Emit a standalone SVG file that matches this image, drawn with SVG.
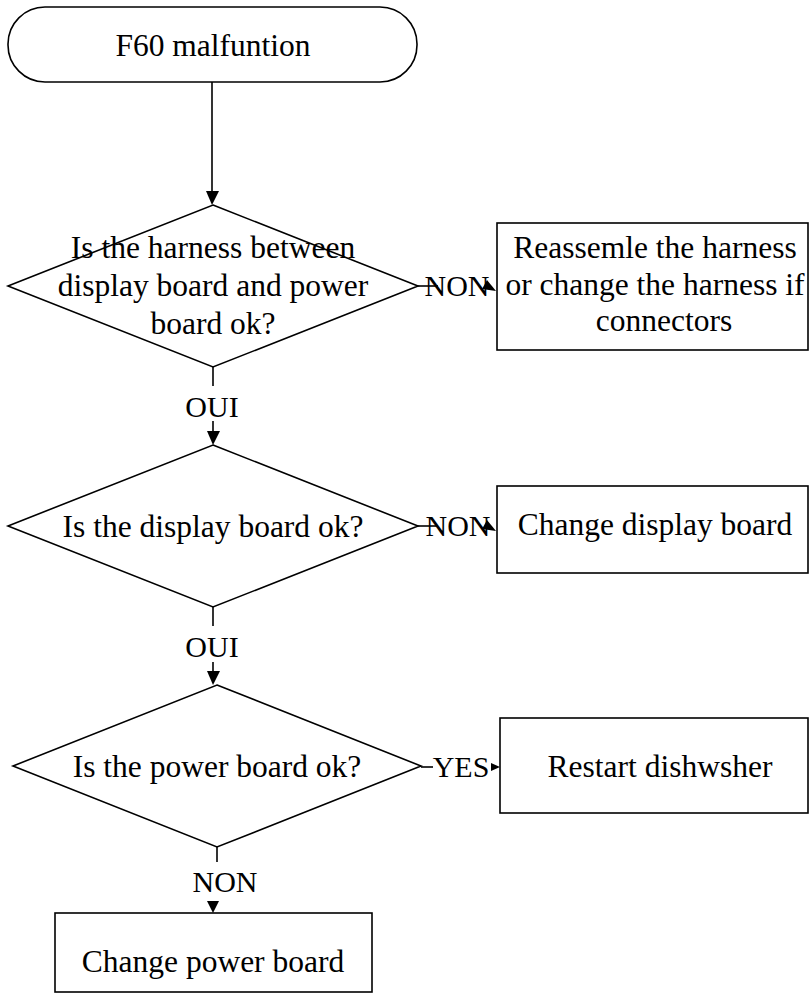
<svg xmlns="http://www.w3.org/2000/svg" width="809" height="1004" viewBox="0 0 809 1004">
<style>
.s{fill:#fff;stroke:#000;stroke-width:1.6}
.t{font-family:"Liberation Serif","Times New Roman",serif;font-size:31.5px;fill:#000;text-anchor:middle}
.l{font-family:"Liberation Serif","Times New Roman",serif;font-size:30px;fill:#000;text-anchor:middle}
.c{stroke:#000;stroke-width:1.6;fill:none}
.a{fill:#000;stroke:none}
</style>
<rect width="809" height="1004" fill="#fff"/>
<g id="start">
<rect class="s" x="8" y="7" width="409" height="75" rx="37" ry="37"/>
<text class="t" x="213" y="56">F60 malfuntion</text>
</g>
<g id="q1">
<polygon class="s" points="213,205 418,286 213,367 8,286"/>
<text class="t" x="213" y="258">Is the harness between</text>
<text class="t" x="213" y="296">display board and power</text>
<text class="t" x="213" y="334">board ok?</text>
</g>
<g id="r1">
<rect class="s" x="497" y="223" width="311" height="127"/>
<text class="t" x="655" y="258">Reassemle the harness</text>
<text class="t" x="655" y="295">or change the harness if</text>
<text class="t" x="664" y="331">connectors</text>
</g>
<g id="q2">
<polygon class="s" points="213,445 418,526 213,607 8,526"/>
<text class="t" x="213" y="537">Is the display board ok?</text>
</g>
<g id="r2">
<rect class="s" x="497" y="486" width="311" height="87"/>
<text class="t" x="655" y="535">Change display board</text>
</g>
<g id="q3">
<polygon class="s" points="217,685 421,766 217,847 13,766"/>
<text class="t" x="217" y="777">Is the power board ok?</text>
</g>
<g id="r3">
<rect class="s" x="500" y="718" width="308" height="95"/>
<text class="t" x="660" y="777">Restart dishwsher</text>
</g>
<g id="r4">
<rect class="s" x="55" y="913" width="317" height="79"/>
<text class="t" x="213" y="972">Change power board</text>
</g>
<g id="connectors">
<line class="c" x1="212" y1="82" x2="212" y2="193"/>
<polygon class="a" points="206,191 219,191 212,205"/>
<line class="c" x1="213" y1="367" x2="213" y2="386"/>
<text class="l" x="212" y="417">OUI</text>
<line class="c" x1="213" y1="421" x2="213" y2="433"/>
<polygon class="a" points="207,431 220,431 213,445"/>
<line class="c" x1="418" y1="286" x2="438" y2="286"/>
<text class="l" x="457" y="296">NON</text>
<polygon class="a" points="482,289 487,280 496,291"/>
<line class="c" x1="213" y1="607" x2="213" y2="626"/>
<text class="l" x="212" y="657">OUI</text>
<line class="c" x1="213" y1="662" x2="213" y2="673"/>
<polygon class="a" points="207,671 220,671 213,685"/>
<line class="c" x1="418" y1="526" x2="438" y2="526"/>
<text class="l" x="458" y="536">NON</text>
<polygon class="a" points="482,529 487,520 496,531"/>
<line class="c" x1="421" y1="767" x2="433" y2="767"/>
<text class="l" x="461" y="777">YES</text>
<polygon class="a" points="491,763 491,771 500,767"/>
<line class="c" x1="217" y1="847" x2="217" y2="862"/>
<text class="l" x="225" y="892">NON</text>
<polygon class="a" points="207,901 219,901 213,913"/>
</g>
</svg>
